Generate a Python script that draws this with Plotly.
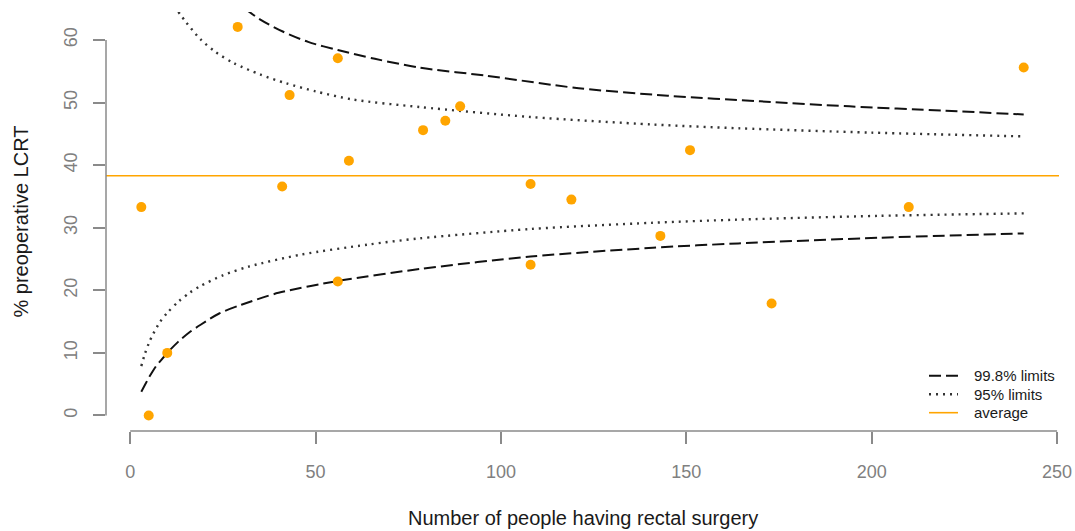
import plotly.graph_objects as go

# Units: number of rectal surgery patients and % receiving preoperative LCRT
N = [3, 5, 10, 29, 41, 43, 56, 56, 59, 79, 85, 89, 108, 108, 119, 143, 151, 173, 210, 241]
PCT = [33.3, 0.0, 10.0, 62.1, 36.6, 51.2, 57.1, 21.4, 40.7, 45.6, 47.1, 49.4,
       37.0, 24.1, 34.5, 28.7, 42.4, 17.9, 33.3, 55.6]

AVERAGE = 38.3

# 99.8% control limits
UP998_N = [31, 35, 41, 48, 56, 66, 78, 96, 121, 145, 170, 194, 220, 241]
UP998 = [65.0, 63.3, 61.4, 59.7, 58.4, 57.0, 55.6, 54.3, 52.3, 51.1, 50.2, 49.4, 48.7, 48.1]
LO998_N = [3, 4, 5, 6, 7, 8, 10, 13, 16, 19, 24, 30, 40, 56, 78, 108, 141, 164, 202, 241]
LO998 = [3.8, 4.9, 6.0, 7.0, 7.9, 8.6, 10.0, 11.8, 13.3, 14.5, 16.3, 17.7, 19.6, 21.5,
         23.4, 25.4, 26.8, 27.5, 28.4, 29.1]

# 95% control limits
UP95_N = [13, 15, 19, 23, 28, 35, 42, 50, 60, 78, 108, 141, 164, 200, 241]
UP95 = [64.5, 62.9, 60.1, 58.1, 56.3, 54.5, 53.1, 51.8, 50.5, 49.3, 47.7, 46.5, 45.9, 45.2, 44.6]
LO95_N = [3, 4, 5, 6, 8, 10, 13, 16, 19, 25, 32, 46, 64, 78, 108, 141, 164, 202, 241]
LO95 = [7.9, 9.9, 11.5, 12.8, 14.9, 16.4, 18.2, 19.6, 20.7, 22.4, 23.8, 25.7, 27.3, 28.3,
        29.8, 30.8, 31.3, 31.9, 32.3]

X_TICKS = [0, 50, 100, 150, 200, 250]
Y_TICKS = [0, 10, 20, 30, 40, 50, 60]
X_RANGE = [-6.52, 250.52]
Y_RANGE = [-2.48, 64.48]

LEGEND_LABELS = ["99.8% limits", "95% limits", "average"]

FONT = "Liberation Sans, Arial, Helvetica, sans-serif"
AXIS_GREY = "#8a8a8a"
ORANGE = "#FFA500"
DASH_STYLE = dict(color="#111111", width=2, dash="12px,5px")
DOT_STYLE = dict(color="#333333", width=2.4, dash="2px,5px")
AVG_STYLE = dict(color=ORANGE, width=1.6)

fig = go.Figure()

for xs, ys in ((UP998_N, UP998), (LO998_N, LO998)):
    fig.add_trace(go.Scatter(x=xs, y=ys, mode="lines", showlegend=False, hoverinfo="skip",
                             line=dict(shape="spline", smoothing=0.8, **DASH_STYLE)))
for xs, ys in ((UP95_N, UP95), (LO95_N, LO95)):
    fig.add_trace(go.Scatter(x=xs, y=ys, mode="lines", showlegend=False, hoverinfo="skip",
                             line=dict(shape="spline", smoothing=0.8, **DOT_STYLE)))

# overall average as a full-width reference line
fig.add_shape(type="line", xref="paper", x0=0, x1=1, yref="y", y0=AVERAGE, y1=AVERAGE,
              line=AVG_STYLE, layer="below")

fig.add_trace(go.Scatter(x=N, y=PCT, mode="markers", showlegend=False,
                         marker=dict(color=ORANGE, size=10, line=dict(width=0))))

# R-style axis lines spanning only the tick range
fig.add_shape(type="line", xref="x", x0=X_TICKS[0], x1=X_TICKS[-1], yref="paper", y0=0, y1=0,
              line=dict(color=AXIS_GREY, width=1.5))
fig.add_shape(type="line", xref="paper", x0=0, x1=0, yref="y", y0=Y_TICKS[0], y1=Y_TICKS[-1],
              line=dict(color=AXIS_GREY, width=1.5))

# borderless key in the lower-right corner
key_rows = [0.132, 0.0876, 0.0437]
for label, style, ky in zip(LEGEND_LABELS, (DASH_STYLE, DOT_STYLE, AVG_STYLE), key_rows):
    fig.add_shape(type="line", xref="paper", yref="paper", x0=0.8636, x1=0.894, y0=ky, y1=ky,
                  line=style)
    fig.add_annotation(text=label, xref="paper", yref="paper", x=0.9087, y=ky,
                       xanchor="left", yanchor="middle", showarrow=False,
                       font=dict(family=FONT, size=15, color="#1a1a1a"))

fig.update_xaxes(range=X_RANGE, tickvals=X_TICKS, ticks="outside", ticklen=12,
                 tickcolor=AXIS_GREY, tickwidth=1.5, showgrid=False, zeroline=False,
                 showline=False, tickfont=dict(family=FONT, size=18, color="#808080"),
                 ticklabelstandoff=12)
fig.update_yaxes(range=Y_RANGE, tickvals=Y_TICKS, ticks="outside", ticklen=12,
                 tickcolor=AXIS_GREY, tickwidth=1.5, showgrid=False, zeroline=False,
                 showline=False, tickangle=-90,
                 tickfont=dict(family=FONT, size=18, color="#808080"),
                 ticklabelstandoff=9)

fig.add_annotation(text="Number of people having rectal surgery", xref="paper", yref="paper",
                   x=0.5, y=0, yshift=-87, showarrow=False, xanchor="center", yanchor="middle",
                   font=dict(family=FONT, size=20, color="#1a1a1a"))
fig.add_annotation(text="% preoperative LCRT", xref="paper", yref="paper",
                   x=0, y=0.5, xshift=-86, showarrow=False, xanchor="center", yanchor="middle",
                   textangle=-90, font=dict(family=FONT, size=20, color="#1a1a1a"))

fig.update_layout(
    width=1075, height=531,
    margin=dict(l=106, r=16, t=12, b=100, autoexpand=False),
    plot_bgcolor="white", paper_bgcolor="white",
    showlegend=False,
)

fig.write_html("out.html")
